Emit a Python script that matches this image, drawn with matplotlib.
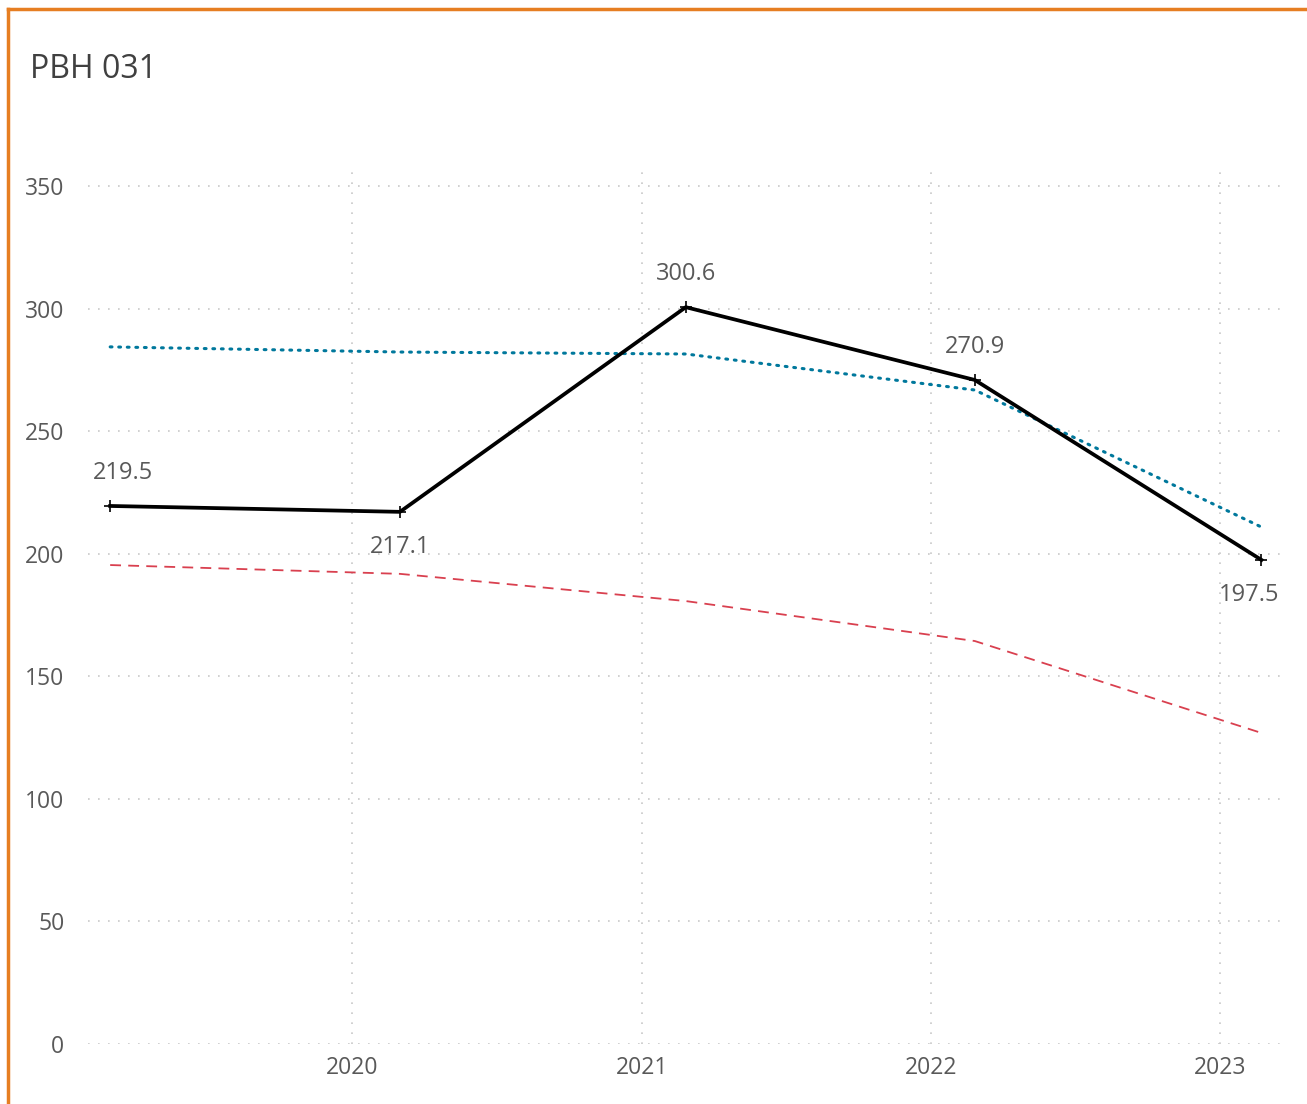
import datetime as dt
import matplotlib
matplotlib.use("Agg")
import matplotlib.pyplot as plt
import matplotlib.dates as mdates
from matplotlib.lines import Line2D

plt.rcParams['font.family'] = ['Open Sans', 'DejaVu Sans']

# data
dates = [dt.date(2019, 3, 1), dt.date(2020, 3, 1), dt.date(2021, 2, 25),
         dt.date(2022, 2, 25), dt.date(2023, 2, 22)]
measured = [219.5, 217.1, 300.6, 270.9, 197.5]
upper = [284.4, 282.3, 281.5, 266.8, 210.9]
lower = [195.4, 191.8, 180.7, 164.4, 126.9]
label_above = [True, False, True, True, False]
year_ticks = [2020, 2021, 2022, 2023]

fig = plt.figure(figsize=(13.07, 11.04), dpi=100)
ax = fig.add_axes([88 / 1307, 1 - 1044 / 1104, (1282 - 88) / 1307, (1044 - 165) / 1104])

ax.plot(dates, upper, color='#00789C', lw=2.2, linestyle=(0, (0.6, 2.2)),
        dash_capstyle='round', zorder=3)
ax.plot(dates, lower, color='#D9404F', lw=1.3, linestyle=(0, (6, 4)), zorder=3)
ax.plot(dates, measured, color='black', lw=2.7, marker='+', markersize=8,
        markeredgewidth=1.2, zorder=4)

for i, (d, v, up) in enumerate(zip(dates, measured, label_above)):
    dy = 24 if up else -25
    dx = 0
    if i == 0:
        dx = 9
    if i == len(dates) - 1:
        dx = -9
    ax.annotate(f"{v:.1f}", (d, v), xytext=(dx, dy), textcoords='offset points',
                ha='center', va='center', fontsize=17, color='#595959')

ax.set_xlim(dt.date(2019, 2, 1), dt.date(2023, 3, 20))
ax.set_ylim(0, 358.6)
ax.set_yticks(range(0, 351, 50))
ax.set_xticks([dt.date(y, 1, 1) for y in year_ticks])
ax.xaxis.set_major_formatter(mdates.DateFormatter('%Y'))

ax.grid(True, color='#c8c8c8', linestyle=(0, (1, 5)), lw=1.2)
ax.set_axisbelow(True)
for s in ax.spines.values():
    s.set_visible(False)
ax.tick_params(length=0, labelsize=16.5, colors='#595959', pad=9)
ax.tick_params(axis='y', pad=17)

fig.text(30 / 1307, 1 - 70 / 1104, 'PBH 031', fontsize=23, color='#404040', va='center')

# orange frame on top and left
fig.add_artist(Line2D([8 / 1307, 1], [1 - 9 / 1104, 1 - 9 / 1104], color='#E67E22', lw=2.5,
                      transform=fig.transFigure))
fig.add_artist(Line2D([8 / 1307, 8 / 1307], [0, 1 - 9 / 1104], color='#E67E22', lw=2.5,
                      transform=fig.transFigure))

fig.savefig('out.png', dpi=100)
